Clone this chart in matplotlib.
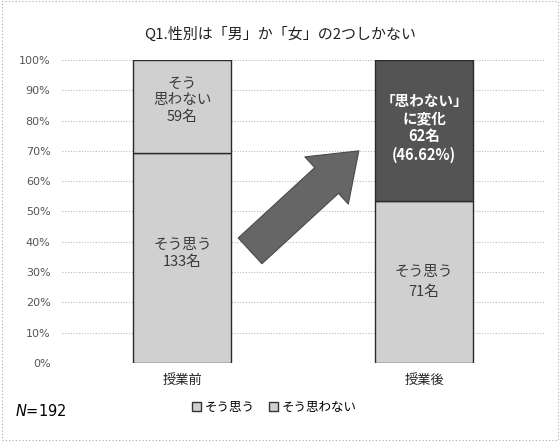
import matplotlib.pyplot as plt
from matplotlib.patches import Rectangle

plt.rcParams['font.family'] = ['Noto Sans CJK JP', 'DejaVu Sans']

categories = ["授業前", "授業後"]
agree = [133, 71]
disagree = [59, 62]
agree_labels = ["そう思う\n133名", "そう思う\n71名"]
disagree_labels = ["そう\n思わない\n59名", "「思わない」\nに変化\n62名\n(46.62%)"]
yticks = [0, 10, 20, 30, 40, 50, 60, 70, 80, 90, 100]

totals = [a + d for a, d in zip(agree, disagree)]
agree_pct = [a / t * 100 for a, t in zip(agree, totals)]
disagree_pct = [d / t * 100 for d, t in zip(disagree, totals)]

fig = plt.figure(figsize=(5.6, 4.41), dpi=100)
ax = fig.add_axes([0.11, 0.177, 0.863, 0.687])

x = list(range(len(categories)))
light = "#d0d0d0"
dark = "#545454"
top_colors = [light, dark]

ax.bar(x, agree_pct, width=0.406, color=light, edgecolor="#2a2a2a",
       linewidth=1.0, zorder=2)
for i in x:
    ax.bar(i, disagree_pct[i], bottom=agree_pct[i], width=0.406,
           color=top_colors[i], edgecolor="#2a2a2a", linewidth=1.0, zorder=2)

ax.text(0, agree_pct[0] / 2 + 1.5, agree_labels[0], ha="center", va="center",
        fontsize=10.5, color="#3a3a3a", linespacing=1.3, zorder=3)
ax.text(1, agree_pct[1] / 2, agree_labels[1], ha="center", va="center",
        fontsize=10.5, color="#3a3a3a", linespacing=1.6, zorder=3)
ax.text(0, agree_pct[0] + disagree_pct[0] / 2 + 2, disagree_labels[0],
        ha="center", va="center", fontsize=10.5, color="#3a3a3a",
        linespacing=1.2, zorder=3)
ax.text(1, agree_pct[1] + disagree_pct[1] / 2 + 1, disagree_labels[1],
        ha="center", va="center", fontsize=10.5, color="white",
        fontweight="bold", linespacing=1.15, zorder=3)

# big arrow between the bars
ax.annotate("", xy=(0.615, 0.70), xytext=(0.39, 0.37),
            xycoords="axes fraction", textcoords="axes fraction",
            arrowprops=dict(arrowstyle="simple,head_length=1.5,head_width=2.2,tail_width=1.2",
                            mutation_scale=21, shrinkA=0, shrinkB=0,
                            facecolor="#666666", edgecolor="#4a4a4a",
                            linewidth=0.8),
            zorder=4)

ax.set_xlim(-0.5, 1.5)
ax.set_ylim(0, 100)
ax.set_yticks(yticks)
ax.set_yticklabels([f"{t}%" for t in yticks], fontsize=8, color="#555555",
                   family="DejaVu Sans")
ax.set_xticks(x)
ax.set_xticklabels(categories, fontsize=9.5, color="#222222")
ax.tick_params(length=0, pad=8)
ax.yaxis.grid(True, linestyle=(0, (1, 1.5)), color="#bbbbbb", linewidth=0.8)
ax.set_axisbelow(True)
for s in ax.spines.values():
    s.set_visible(False)

fig.suptitle("Q1.性別は「男」か「女」の2つしかない", y=0.94, fontsize=10.8,
             color="#222222")

# legend
handles = [Rectangle((0, 0), 1, 1, facecolor=light, edgecolor="#333333"),
           Rectangle((0, 0), 1, 1, facecolor=light, edgecolor="#333333")]
fig.legend(handles, ["そう思う", "そう思わない"], loc="center",
           bbox_to_anchor=(0.49, 0.077), ncol=2, frameon=False, fontsize=9,
           handlelength=0.7, handleheight=0.7, handletextpad=0.3,
           columnspacing=1.2)

fig.text(0.027, 0.067, "$N$=192", fontsize=10.5, family="DejaVu Sans",
         va="center", ha="left")

# dotted outer border
fig.patches.append(Rectangle((0.003, 0.003), 0.994, 0.994,
                             transform=fig.transFigure, fill=False,
                             edgecolor="#aaaaaa", linestyle=(0, (1, 2)),
                             linewidth=0.8))

fig.savefig("out.png", dpi=100)
